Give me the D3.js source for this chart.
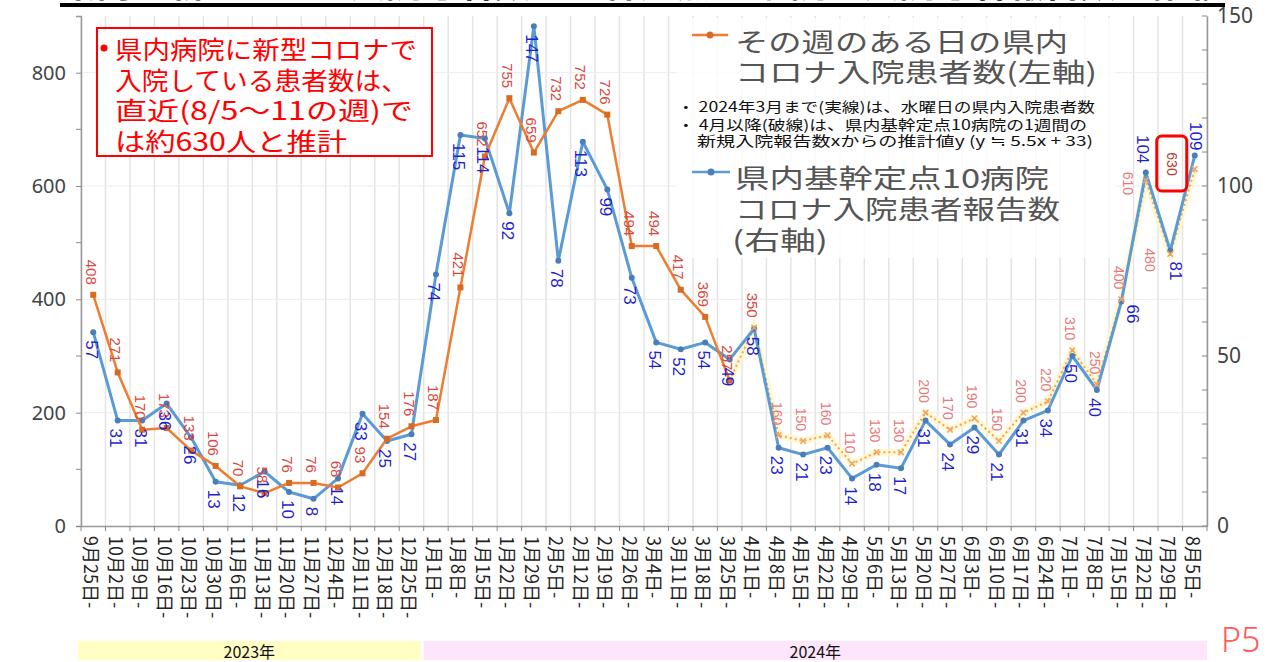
<!DOCTYPE html>
<html>
<head>
<meta charset="utf-8">
<script src="https://cdn.jsdelivr.net/npm/d3@7"></script>
<style>
  html, body { margin: 0; padding: 0; background: #fff; overflow: hidden; }
  svg { display: block; }
</style>
</head>
<body>
<svg id="chart" width="1277" height="662"></svg>
<script>
// Week labels (week starting date)
const weeks = [
  "9月25日-", "10月2日-", "10月9日-", "10月16日-", "10月23日-", "10月30日-",
  "11月6日-", "11月13日-", "11月20日-", "11月27日-", "12月4日-", "12月11日-",
  "12月18日-", "12月25日-", "1月1日-", "1月8日-", "1月15日-", "1月22日-",
  "1月29日-", "2月5日-", "2月12日-", "2月19日-", "2月26日-", "3月4日-",
  "3月11日-", "3月18日-", "3月25日-", "4月1日-", "4月8日-", "4月15日-",
  "4月22日-", "4月29日-", "5月6日-", "5月13日-", "5月20日-", "5月27日-",
  "6月3日-", "6月10日-", "6月17日-", "6月24日-", "7月1日-", "7月8日-",
  "7月15日-", "7月22日-", "7月29日-", "8月5日-"
];

// Inpatients in the prefecture on one day of the week (left axis)
const inpatients = [
  408, 271, 170, 173, 133, 106, 70, 58, 76, 76, 68, 93, 154, 176,
  187, 421, 652, 755, 659, 732, 752, 726, 494, 494, 417, 369, 257,
  350, 160, 150, 160, 110, 130, 130, 200, 170, 190, 150, 200, 220,
  310, 250, 400, 610, 480, 630
];

// New admissions reported by the 10 sentinel hospitals (right axis)
const sentinelReports = [
  57, 31, 31, 36, 26, 13, 12, 16, 10, 8, 14, 33, 25, 27,
  74, 115, 114, 92, 147, 78, 113, 99, 73, 54, 52, 54, 49,
  58, 23, 21, 23, 14, 18, 17, 31, 24, 29, 21, 31, 34,
  50, 40, 66, 104, 81, 109
];

// From this week on the inpatient figure is an estimate (y ≒ 5.5x + 33)
const estimateStart = "4月1日-";

const leftTicks = [0, 200, 400, 600, 800];
const leftMinorTicks = [100, 300, 500, 700];
const rightTicks = [0, 50, 100, 150];
const rightMinorTicks = d3.range(0, 151, 10);

const yearLabels = ["2023年", "2024年"];
const yearStarts = ["9月25日-", "1月1日-"];

const calloutLines = [
  "県内病院に新型コロナで",
  "入院している患者数は、",
  "直近(8/5～11の週)で",
  "は約630人と推計"
];
const legendInpatients = ["その週のある日の県内", "コロナ入院患者数(左軸)"];
const legendNotes = [
  "・ 2024年3月まで(実線)は、水曜日の県内入院患者数",
  "・ 4月以降(破線)は、県内基幹定点10病院の1週間の",
  "新規入院報告数xからの推計値y (y ≒ 5.5x + 33)"
];
const legendReports = ["県内基幹定点10病院", "コロナ入院患者報告数", "(右軸)"];
const pageTitle = "県内の新型コロナ入院患者数と基幹定点10病院の入院患者報告数の推移";
const pageNo = "P5";

// ---------------------------------------------------------------
const svg = d3.select("#chart");
const JP = "'Noto Sans CJK JP', 'Noto Sans', sans-serif";
const NUM = "'Liberation Sans', Arial, sans-serif";

const plot = { left: 81, right: 1207, top: 16, bottom: 526 };

const x = d3.scaleBand().domain(weeks).range([plot.left, plot.right]);
const cx = d => x(d) + x.bandwidth() / 2;
const yL = d3.scaleLinear().domain([0, 900]).range([plot.bottom, plot.top]);
const yR = d3.scaleLinear().domain([0, 150]).range([plot.bottom, plot.top]);

const estIdx = weeks.indexOf(estimateStart);

// title strip (mostly above the page edge)
svg.append("text")
  .attr("x", 60).attr("y", -3)
  .attr("textLength", 1165).attr("lengthAdjust", "spacingAndGlyphs")
  .style("font-family", JP).style("font-size", "30px").style("font-weight", 700)
  .attr("fill", "#000").text(pageTitle);
svg.append("rect").attr("x", 60).attr("y", 3).attr("width", 1165).attr("height", 4).attr("fill", "#000");

// grid
const grid = svg.append("g");
weeks.concat([null]).forEach((w, i) => {
  const gx = plot.left + i * x.step();
  grid.append("line")
    .attr("x1", gx).attr("x2", gx).attr("y1", plot.top).attr("y2", plot.bottom)
    .attr("stroke", "#e4e4e4").attr("stroke-width", 1.5);
});
leftTicks.slice(1).forEach(t => {
  grid.append("line")
    .attr("x1", plot.left).attr("x2", plot.right).attr("y1", yL(t)).attr("y2", yL(t))
    .attr("stroke", "#ececec").attr("stroke-width", 1);
});

// legend backdrop
svg.append("rect").attr("x", 676).attr("y", 18).attr("width", 440).attr("height", 240)
  .attr("fill", "#fff").attr("opacity", 0.82);

// axes
const axisL = svg.append("g").attr("transform", `translate(${plot.left},0)`)
  .call(d3.axisLeft(yL).tickValues(leftTicks).tickSize(5).tickPadding(10));
axisL.selectAll("text").style("font-family", "'Noto Sans', sans-serif").style("font-size", "20px").attr("fill", "#444");
axisL.selectAll("line").attr("stroke", "#888");
axisL.select(".domain").attr("stroke", "#999").attr("stroke-width", 1.5);
axisL.append("g").selectAll("line").data(leftMinorTicks).join("line")
  .attr("x1", -5).attr("x2", 0).attr("y1", d => yL(d)).attr("y2", d => yL(d)).attr("stroke", "#888");

const axisR = svg.append("g").attr("transform", `translate(${plot.right},0)`)
  .call(d3.axisRight(yR).tickValues(rightTicks).tickSize(0).tickPadding(10));
axisR.selectAll("text").style("font-family", "'Noto Sans', sans-serif").style("font-size", "21px").attr("fill", "#444");
axisR.select(".domain").attr("stroke", "#999").attr("stroke-width", 1.5);
axisR.append("g").selectAll("line").data(rightMinorTicks).join("line")
  .attr("x1", -5).attr("x2", 0).attr("y1", d => yR(d)).attr("y2", d => yR(d)).attr("stroke", "#888");

const axisB = svg.append("g").attr("transform", `translate(0,${plot.bottom})`)
  .call(d3.axisBottom(x).tickSize(0).tickFormat(""));
axisB.select(".domain").attr("stroke", "#999").attr("stroke-width", 1.5);
axisB.append("g").selectAll("line").data(d3.range(weeks.length + 1)).join("line")
  .attr("x1", i => plot.left + i * x.step()).attr("x2", i => plot.left + i * x.step())
  .attr("y1", 0).attr("y2", 5).attr("stroke", "#888");

// rotated week labels
svg.append("g").selectAll("text").data(weeks).join("text")
  .attr("transform", d => `translate(${cx(d) - 1},536) rotate(90)`)
  .attr("dominant-baseline", "central")
  .style("font-family", JP).style("font-size", "18px").attr("fill", "#222")
  .text(d => d);

// year bands
const yearBand = svg.append("g");
yearLabels.forEach((lab, i) => {
  const x0 = x(yearStarts[i]) - (i === 0 ? 3 : 0);
  const x1 = i + 1 < yearStarts.length ? x(yearStarts[i + 1]) - 3 : plot.right;
  yearBand.append("rect").attr("x", x0).attr("y", 641).attr("width", x1 - x0).attr("height", 19)
    .attr("fill", i === 0 ? "#ffffc4" : "#fde6fb");
  yearBand.append("text").attr("x", (x0 + x1) / 2).attr("y", 651)
    .attr("text-anchor", "middle").attr("dominant-baseline", "central")
    .style("font-family", JP).style("font-size", "16px").attr("fill", "#111").text(lab);
});

// ----- lines -----
const pts = weeks.map((w, i) => ({ w, i, a: inpatients[i], b: sentinelReports[i] }));
const lineA = d3.line().x(d => cx(d.w)).y(d => yL(d.a));
const lineB = d3.line().x(d => cx(d.w)).y(d => yR(d.b));

const actual = pts.slice(0, estIdx);
const estimated = pts.slice(estIdx - 1);

// estimated inpatients: soft halo + dotted line
svg.append("path").datum(estimated).attr("d", lineA)
  .attr("fill", "none").attr("stroke", "#fff6c8").attr("stroke-width", 7).attr("opacity", 0.8);
svg.append("path").datum(estimated).attr("d", lineA)
  .attr("fill", "none").attr("stroke", "#f2a35e").attr("stroke-width", 2)
  .attr("stroke-dasharray", "2,3");

// sentinel reports (blue)
svg.append("path").datum(pts).attr("d", lineB)
  .attr("fill", "none").attr("stroke", "#5b9bd5").attr("stroke-width", 3)
  .attr("stroke-linejoin", "round");
svg.append("g").selectAll("circle").data(pts).join("circle")
  .attr("cx", d => cx(d.w)).attr("cy", d => yR(d.b)).attr("r", 3)
  .attr("fill", "#4a7ebb");

// actual inpatients (orange)
svg.append("path").datum(actual).attr("d", lineA)
  .attr("fill", "none").attr("stroke", "#ed7d31").attr("stroke-width", 2.5)
  .attr("stroke-linejoin", "round");
svg.append("g").selectAll("rect").data(actual).join("rect")
  .attr("x", d => cx(d.w) - 3).attr("y", d => yL(d.a) - 3).attr("width", 6).attr("height", 6)
  .attr("fill", "#d86a22");
svg.append("g").selectAll("path").data(pts.slice(estIdx)).join("path")
  .attr("transform", d => `translate(${cx(d.w)},${yL(d.a)})`)
  .attr("d", d3.symbol(d3.symbolTimes, 22))
  .attr("fill", "none").attr("stroke", "#f0a460").attr("stroke-width", 1.5);

// ----- data labels -----
const orangeNudge = {
  43: { dx: -18, dy: 3, anchor: "middle" },
  44: { dx: -20, dy: 6, anchor: "middle" },
  45: { dx: -23, dy: -5, anchor: "middle" }
};
const blueNudge = {
  42: { dx: 11, dy: 3 },
  43: { dx: -3, dy: -9, anchor: "end" },
  44: { dx: 5, dy: 11 },
  45: { dx: 1, dy: -5, anchor: "end" }
};

const labels = svg.append("g");
pts.forEach(d => {
  const n = orangeNudge[d.i] || {};
  const px = cx(d.w) + (n.dx !== undefined ? n.dx : -2);
  const py = yL(d.a) + (n.dy !== undefined ? n.dy : -10);
  const est = d.i >= estIdx + 1;
  labels.append("text")
    .attr("transform", `translate(${px},${py}) rotate(90)`)
    .attr("text-anchor", n.anchor || "end")
    .attr("dominant-baseline", "central")
    .style("font-family", NUM).style("font-size", est ? "14px" : "15px")
    .attr("fill", d.i === 45 ? "#c0392b" : (est ? "#e8797a" : "#d9483f"))
    .text(d.a);
});
pts.forEach(d => {
  const n = blueNudge[d.i] || {};
  const px = cx(d.w) + (n.dx !== undefined ? n.dx : -2);
  const py = yR(d.b) + (n.dy !== undefined ? n.dy : 8);
  labels.append("text")
    .attr("transform", `translate(${px},${py}) rotate(90)`)
    .attr("text-anchor", n.anchor || "start")
    .attr("dominant-baseline", "central")
    .style("font-family", NUM).style("font-size", "17px")
    .attr("fill", "#1f1fd0")
    .text(d.b);
});

// highlight box around the latest estimate
{
  const last = pts[pts.length - 1];
  const n = orangeNudge[last.i];
  const bx = cx(last.w) + n.dx, by = yL(last.a) + n.dy;
  svg.append("rect").attr("x", bx - 15).attr("y", by - 28).attr("width", 30).attr("height", 55)
    .attr("rx", 5).attr("fill", "none").attr("stroke", "#ff0000").attr("stroke-width", 3);
}

// ----- callout box -----
const callout = svg.append("g");
callout.append("rect").attr("x", 97).attr("y", 28).attr("width", 335).attr("height", 128)
  .attr("fill", "#fff").attr("stroke", "#ff0000").attr("stroke-width", 2);
callout.append("circle").attr("cx", 104).attr("cy", 48).attr("r", 3.5).attr("fill", "#ff0000");
const calloutWidths = [302, 293, 298, 232];
calloutLines.forEach((t, i) => {
  callout.append("text").attr("x", 115).attr("y", 48 + i * 30.5)
    .attr("dominant-baseline", "central")
    .attr("textLength", calloutWidths[i]).attr("lengthAdjust", "spacingAndGlyphs")
    .style("font-family", JP).style("font-size", "25px").attr("fill", "#ff0000").text(t);
});

// ----- legend -----
const legend = svg.append("g");
legend.append("line").attr("x1", 692).attr("x2", 728).attr("y1", 35).attr("y2", 35)
  .attr("stroke", "#ed7d31").attr("stroke-width", 2.5);
legend.append("circle").attr("cx", 710).attr("cy", 35).attr("r", 3.5).attr("fill", "#d86a22");
legend.append("line").attr("x1", 692).attr("x2", 730).attr("y1", 172).attr("y2", 172)
  .attr("stroke", "#5b9bd5").attr("stroke-width", 2.5);
legend.append("circle").attr("cx", 711).attr("cy", 172).attr("r", 3.5).attr("fill", "#4a7ebb");

const legAWidths = [333, 362];
legendInpatients.forEach((t, i) => {
  legend.append("text").attr("x", 735).attr("y", 40 + i * 30)
    .attr("dominant-baseline", "central")
    .attr("textLength", legAWidths[i]).attr("lengthAdjust", "spacingAndGlyphs")
    .style("font-family", JP).style("font-size", "26px").attr("fill", "#555").text(t);
});
const noteX = [677, 677, 697], noteW = [418, 410, 396];
legendNotes.forEach((t, i) => {
  legend.append("text").attr("x", noteX[i]).attr("y", 106 + i * 18 - (i === 2 ? 2 : 0))
    .attr("dominant-baseline", "central")
    .attr("textLength", noteW[i]).attr("lengthAdjust", "spacingAndGlyphs")
    .style("font-family", JP).style("font-size", "14px").attr("fill", "#111").text(t);
});
const legBWidths = [314, 325, 96];
legendReports.forEach((t, i) => {
  legend.append("text").attr("x", i === 2 ? 732 : 735).attr("y", 176 + i * 31)
    .attr("dominant-baseline", "central")
    .attr("textLength", legBWidths[i]).attr("lengthAdjust", "spacingAndGlyphs")
    .style("font-family", JP).style("font-size", "26px").attr("fill", "#555").text(t);
});

// page number
svg.append("text").attr("x", 1221).attr("y", 652)
  .style("font-family", "'Noto Sans', sans-serif").style("font-size", "34px").style("font-weight", 300)
  .attr("fill", "#ff5a5a").text(pageNo);
</script>
</body>
</html>
